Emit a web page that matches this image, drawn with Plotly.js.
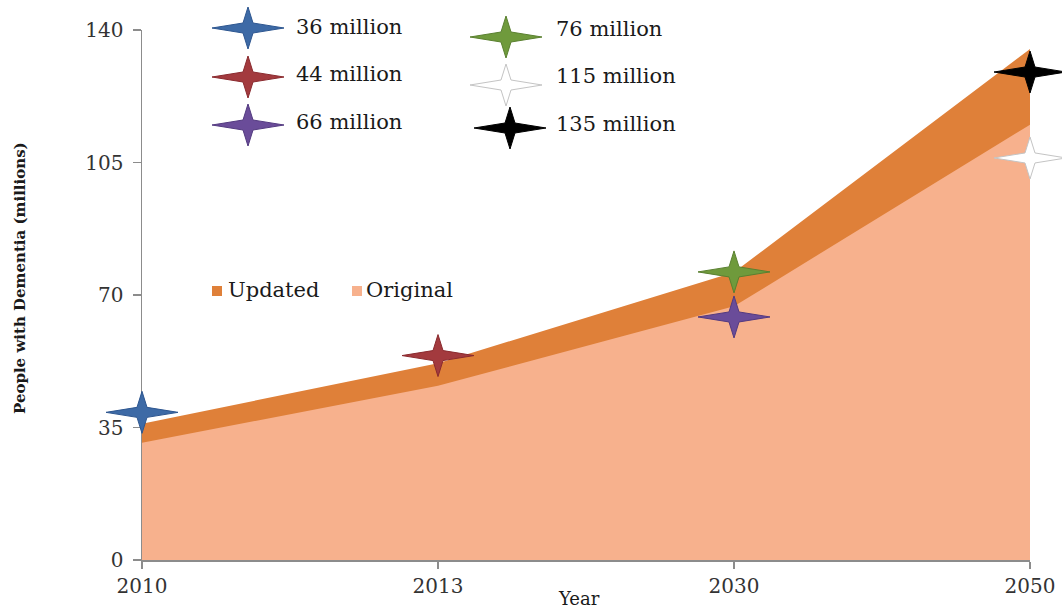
<!DOCTYPE html>
<html>
<head>
<meta charset="utf-8">
<script src="https://cdn.plot.ly/plotly-3.0.1.min.js"></script>
<style>html,body{margin:0;padding:0;background:#fff;}#chart{width:1062px;height:608px;}</style>
</head>
<body>
<div id="chart"></div>
<script>
// ---- data ----
var years = ['2010', '2013', '2030', '2050'];
var updated = [36, 52, 76, 135];
var original = [31, 46, 67, 115];
var seriesNames = ['Updated', 'Original'];
var yTicks = [0, 35, 70, 105, 140];

var starLabels = ['36 million', '44 million', '66 million', '76 million', '115 million', '135 million'];
var starYears = ['2010', '2013', '2030', '2030', '2050', '2050'];
var starValues = [39, 54, 64.2, 76.1, 106.2, 128.9];

// ---- styles ----
var starFill = ['#3d6aa6', '#a33a3e', '#6a4c99', '#6f9a3c', '#ffffff', '#000000'];
var starLine = ['#2d5690', '#8a2a2e', '#533a80', '#5a8030', '#c4c4c4', '#000000'];
var colUpdated = 'rgb(223,128,57)';
var colOriginal = 'rgb(247,177,141)';
var serif = 'DejaVu Serif, serif';

function starPath(w, h, a) {
  return 'M ' + (-w) + ',0 L ' + (-a) + ',' + a + ' L 0,' + h + ' L ' + a + ',' + a +
         ' L ' + w + ',0 L ' + a + ',' + (-a) + ' L 0,' + (-h) + ' L ' + (-a) + ',' + (-a) + ' Z';
}

var traces = [
  {x: years, y: updated, type: 'scatter', mode: 'lines', fill: 'tozeroy',
   fillcolor: colUpdated, line: {color: colUpdated, width: 0}, name: seriesNames[0],
   showlegend: false, hoverinfo: 'x+y'},
  {x: years, y: original, type: 'scatter', mode: 'lines', fill: 'tozeroy',
   fillcolor: colOriginal, line: {color: colOriginal, width: 0}, name: seriesNames[1],
   showlegend: false, hoverinfo: 'x+y'}
];

var W = 1062, L = 142, R = 1030, T = 30, B = 560;
var yMax = yTicks[yTicks.length - 1];
function px2x(p) { return (p - L) / (R - L); }
function py2y(p) { return (B - p) / (B - T); }
// category index / value -> paper fraction (lets stars overflow the plot area unclipped)
function cat2paper(c) { return years.indexOf(c) / (years.length - 1); }
function val2paper(v) { return v / yMax; }

var shapes = [];
var annotations = [];

// stars on the chart
for (var i = 0; i < starLabels.length; i++) {
  shapes.push({
    type: 'path', xref: 'paper', yref: 'paper', xsizemode: 'pixel', ysizemode: 'pixel',
    xanchor: cat2paper(starYears[i]), yanchor: val2paper(starValues[i]),
    path: starPath(36, 21, 5),
    fillcolor: starFill[i], line: {color: starLine[i], width: 1}, layer: 'above'
  });
}

// star legend (two columns of three)
var legX = [248, 248, 248, 506, 506, 510];
var legY = [28, 77, 125, 37, 85, 128];
var legTextX = [294, 294, 294, 554, 554, 554];
var legTextY = [27, 74, 122, 29, 76, 124];
for (var j = 0; j < starLabels.length; j++) {
  shapes.push({
    type: 'path', xref: 'paper', yref: 'paper', xsizemode: 'pixel', ysizemode: 'pixel',
    xanchor: px2x(legX[j]), yanchor: py2y(legY[j]),
    path: starPath(36, 21, 5),
    fillcolor: starFill[j], line: {color: starLine[j], width: 1}, layer: 'above'
  });
  annotations.push({
    xref: 'paper', yref: 'paper', x: px2x(legTextX[j]), y: py2y(legTextY[j]),
    xanchor: 'left', yanchor: 'middle', showarrow: false, text: starLabels[j],
    font: {family: serif, size: 21, color: '#1a1a1a'}
  });
}

// series legend
var serColors = [colUpdated, colOriginal];
var serSqX = [217, 357];
var serTxtX = [226, 364];
for (var k = 0; k < seriesNames.length; k++) {
  shapes.push({
    type: 'rect', xref: 'paper', yref: 'paper', xsizemode: 'pixel', ysizemode: 'pixel',
    xanchor: px2x(serSqX[k]), yanchor: py2y(291),
    x0: -5, x1: 5, y0: -5, y1: 5, fillcolor: serColors[k], line: {width: 0}, layer: 'above'
  });
  annotations.push({
    xref: 'paper', yref: 'paper', x: px2x(serTxtX[k]), y: py2y(290),
    xanchor: 'left', yanchor: 'middle', showarrow: false, text: seriesNames[k],
    font: {family: serif, size: 21, color: '#1a1a1a'}
  });
}

// axis titles
annotations.push({
  xref: 'paper', yref: 'paper', x: 0, xshift: -122, y: py2y(278), textangle: -90,
  xanchor: 'center', yanchor: 'middle', showarrow: false,
  text: '<b>People with Dementia (millions)</b>',
  font: {family: serif, size: 15, color: '#1a1a1a'}
});
annotations.push({
  xref: 'paper', yref: 'paper', x: px2x(579), y: 0, yshift: -38,
  xanchor: 'center', yanchor: 'middle', showarrow: false, text: 'Year',
  font: {family: serif, size: 18, color: '#1a1a1a'}
});

var layout = {
  width: 1062, height: 608,
  margin: {l: L, r: W - R, t: T, b: 608 - B, pad: 0},
  paper_bgcolor: '#ffffff', plot_bgcolor: '#ffffff',
  showlegend: false,
  xaxis: {
    type: 'category', range: [0, years.length - 1], showgrid: false, zeroline: false,
    showline: true, linecolor: '#8c8c8c', linewidth: 1.5,
    ticks: 'outside', ticklen: 7, tickcolor: '#8c8c8c', tickwidth: 1.5,
    tickfont: {family: serif, size: 20, color: '#333'}, fixedrange: true
  },
  yaxis: {
    range: [0, yMax], tickvals: yTicks, showgrid: false, zeroline: false,
    showline: true, linecolor: '#8c8c8c', linewidth: 1.5,
    ticks: 'outside', ticklen: 8, tickcolor: '#8c8c8c', tickwidth: 1.5,
    ticklabelstandoff: 5,
    tickfont: {family: serif, size: 20, color: '#333'}, fixedrange: true
  },
  shapes: shapes,
  annotations: annotations
};

Plotly.newPlot('chart', traces, layout, {displayModeBar: false, staticPlot: true});
</script>
</body>
</html>
